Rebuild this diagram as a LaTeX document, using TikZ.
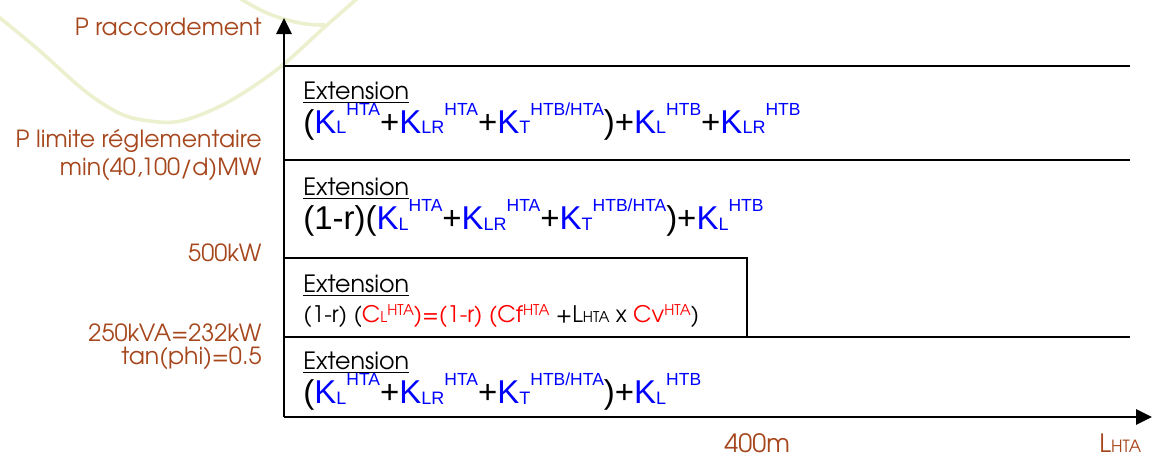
\documentclass[tikz,border=0pt]{standalone}
\usepackage{fontspec}
\usetikzlibrary{arrows.meta}
\setmainfont{Liberation Sans}
\newfontfamily\gothic{TeX Gyre Adventor}

\definecolor{labbrown}{RGB}{166,70,28}
\definecolor{kblue}{RGB}{0,0,255}
\definecolor{cred}{RGB}{255,0,0}
\definecolor{wave}{RGB}{236,240,206}

% sub/superscripts set one after the other, as separate runs
\newcommand\lo[1]{\raisebox{-0.5pt}{\fontsize{9}{9}\selectfont #1}}
\newcommand\hi[1]{\raisebox{9pt}{\fontsize{8.75}{9}\selectfont #1}}
\newcommand\K[2]{\textcolor{kblue}{K\lo{#1}\hi{#2}}}
% small gothic formula
\newcommand\glo[1]{\raisebox{-0.3pt}{\fontsize{7.4}{8}\selectfont #1}}
\newcommand\ghi[1]{\raisebox{3.3pt}{\fontsize{7.4}{8}\selectfont #1}}

\tikzset{
  axisline/.style={line width=1.4pt,-{Triangle[length=8pt,width=7.5pt]}},
  boxline/.style={line width=1.1pt},
  axlabel/.style={anchor=base east,inner sep=0pt,text=labbrown,font=\gothic\fontsize{11.8}{13}\selectfont},
  extlabel/.style={anchor=base west,inner sep=0pt,font=\gothic\fontsize{11.9}{13}\selectfont},
  formula/.style={anchor=base west,inner sep=0pt,font=\fontsize{16.5}{18}\selectfont},
  smallformula/.style={anchor=base west,inner sep=0pt,font=\gothic\fontsize{11.4}{13}\selectfont},
}

\begin{document}
\begin{tikzpicture}[x=0.5pt,y=-0.5pt]
\useasboundingbox (0,0) rectangle (1153,455);

% faint background waves
\begin{scope}
  \clip (0,0) rectangle (1153,455);
  \draw[wave,line width=1.8pt] plot[smooth,tension=0.7] coordinates
    {(-10,10) (33,45) (100,102) (150,121) (200,115) (267,77) (327,25) (360,-4)};
  \draw[wave,line width=1.8pt] plot[smooth,tension=0.7] coordinates
    {(236,-4) (267,13) (300,23) (325,25)};
\end{scope}

% axes
\coordinate (O) at (284,417);
\coordinate (ytip) at (284,18);
\coordinate (xtip) at (1152,417);
\draw[axisline] (O) -- (ytip);
\draw[axisline] (O) -- (xtip);

% band boundaries
\coordinate (b1l) at (284,66);  \coordinate (b1r) at (1130,66);
\coordinate (b2l) at (284,160); \coordinate (b2r) at (1130,160);
\coordinate (b3l) at (284,258); \coordinate (b3c) at (747,258);
\coordinate (b3d) at (747,337);
\coordinate (b4l) at (284,337); \coordinate (b4r) at (1130,337);
\draw[boxline] (b1l) -- (b1r);
\draw[boxline] (b2l) -- (b2r);
\draw[boxline] (b3l) -- (b3c) -- (b3d);
\draw[boxline] (b4l) -- (b4r);

% axis labels
\node[axlabel] (lracc) at (262,35) {P raccordement};
\node[axlabel] (llim) at (262,147) {P limite réglementaire};
\node[axlabel] (lmin) at (262,175) {min(40,100/d)MW};
\node[axlabel] (l500) at (262,261) {500kW};
\node[axlabel] (l250) at (262,341) {250kVA=232kW};
\node[axlabel] (ltan) at (262,364) {tan(phi)=0.5};
\node[axlabel,anchor=base west,font=\gothic\fontsize{12.6}{14}\selectfont] (l400) at (724,452) {400m};
\node[axlabel,anchor=base west,font=\gothic\fontsize{12.6}{14}\selectfont] (lhta) at (1099,452)
  {L\raisebox{-0.3pt}{\fontsize{8.4}{9}\selectfont HTA}};

% band 1
\node[extlabel] (e1) at (303,99) {\underline{Extension}};
\node[formula] (f1) at (303,133)
  {(\K{L}{HTA}+\K{LR}{HTA}+\K{T}{HTB/HTA})+\K{L}{HTB}+\K{LR}{HTB}};

% band 2
\node[extlabel] (e2) at (303,195) {\underline{Extension}};
\node[formula] (f2) at (303,229)
  {(1-r)(\K{L}{HTA}+\K{LR}{HTA}+\K{T}{HTB/HTA})+\K{L}{HTB}};

% band 3
\node[extlabel] (e3) at (303,292) {\underline{Extension}};
\node[smallformula] (f3) at (303,322)
  {(1-r) (\textcolor{cred}{C\glo{L}\ghi{HTA})=(1-r) (Cf\ghi{HTA}}
   +L\glo{HTA} x \textcolor{cred}{Cv\ghi{HTA}})};

% band 4
\node[extlabel] (e4) at (303,369) {\underline{Extension}};
\node[formula] (f4) at (303,403)
  {(\K{L}{HTA}+\K{LR}{HTA}+\K{T}{HTB/HTA})+\K{L}{HTB}};
\end{tikzpicture}
\end{document}
